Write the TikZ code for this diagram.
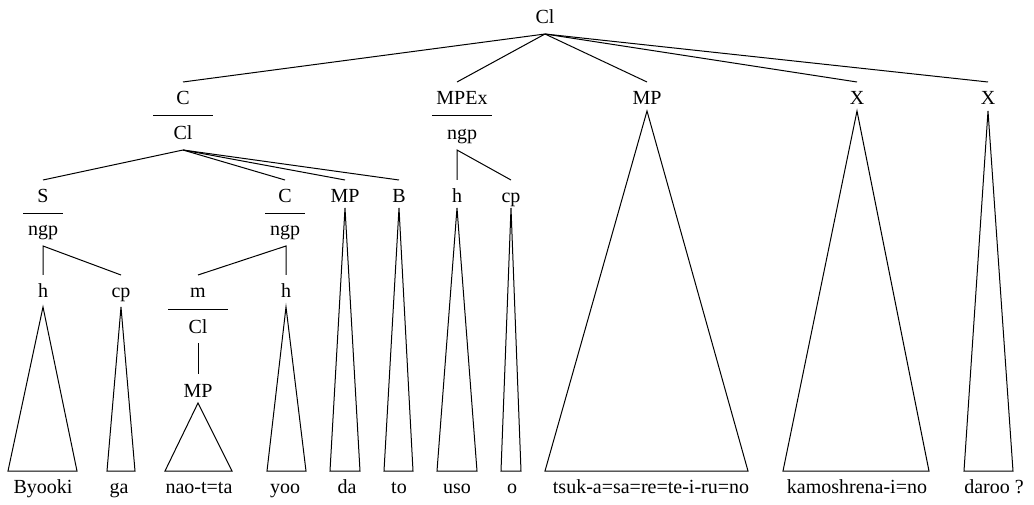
\documentclass[tikz,border=0pt]{standalone}
\usepackage{fontspec}
\setmainfont{Liberation Serif}
\usetikzlibrary{calc}
\newcommand\drawbar[2]{\draw ($(#1.south)+(-#2,1)$) -- ($(#1.south)+(#2,1)$);}
\newcommand\drawtri[4]{\draw ([yshift=-#2pt]#1.base) -- (#3,471) -- (#4,471) -- cycle;}
\begin{document}
\begin{tikzpicture}[x=1pt,y=-1pt,line width=1pt,
  lab/.style={inner sep=0pt,outer xsep=0pt,outer ysep=10pt,text height=13pt,text depth=0pt,anchor=base,font=\fontsize{20}{24}\selectfont},
  word/.style={lab}]
\useasboundingbox (0,0) rectangle (1034,505);
% labels
\node[lab] (cl0) at (545,24) {Cl};
\node[lab] (c1) at (183,105) {C};
\node[lab] (cl1) at (183,140) {Cl};
\node[lab] (mpex) at (462,105) {MPEx};
\node[lab] (ngp1) at (462,140) {ngp};
\node[lab] (mp1) at (647,105) {MP};
\node[lab] (x1) at (857,105) {X};
\node[lab] (x2) at (988,105) {X};
\node[lab] (s2) at (43,203) {S};
\node[lab] (ngpS) at (43,236) {ngp};
\node[lab] (c2) at (285,203) {C};
\node[lab] (ngpC) at (285,236) {ngp};
\node[lab] (mp2) at (345,203) {MP};
\node[lab] (b2) at (399,203) {B};
\node[lab] (h2) at (457,203) {h};
\node[lab] (cp2) at (511,203) {cp};
\node[lab] (h3) at (43,298) {h};
\node[lab] (cp3) at (121,298) {cp};
\node[lab] (m3) at (198,298) {m};
\node[lab] (cl3) at (198,333) {Cl};
\node[lab] (mp3) at (198,397) {MP};
\node[lab] (h3b) at (286,298) {h};
% words
\node[word] (w1) at (43,493) {Byooki};
\node[word] (w2) at (119,493) {ga};
\node[word] (w3) at (199,493) {nao-t=ta};
\node[word] (w4) at (285,493) {yoo};
\node[word] (w5) at (347,493) {da};
\node[word] (w6) at (399,493) {to};
\node[word] (w7) at (457,493) {uso};
\node[word] (w8) at (512,493) {o};
\node[word] (w9) at (651,493) {tsuk-a=sa=re=te-i-ru=no};
\node[word] (w10) at (857,493) {kamoshrena-i=no};
\node[word] (w11) at (994,493) {daroo ?};
% bars
\drawbar{c1}{30}
\drawbar{mpex}{30}
\drawbar{s2}{20}
\drawbar{c2}{20}
\drawbar{m3}{30}
% branches
\draw (cl0.south) -- (c1.north);
\draw (cl0.south) -- (h2 |- mpex.north);
\draw (cl0.south) -- (mp1.north);
\draw (cl0.south) -- (x1.north);
\draw (cl0.south) -- (x2.north);
\draw (h2.north) -- (h2 |- ngp1.south) -- (cp2.north);
\draw (cl1.south) -- (s2.north);
\draw (cl1.south) -- (c2.north);
\draw (cl1.south) -- (mp2.north);
\draw (cl1.south) -- (b2.north);
\draw (h3.north) -- (h3 |- ngpS.south) -- (cp3.north);
\draw (h3b.north) -- (h3b |- ngpC.south) -- (m3.north);
\draw (cl3.south) -- (mp3.north);
% triangles
\drawtri{h3}{9}{8}{77}
\drawtri{cp3}{9}{107}{135}
\drawtri{mp3}{6}{165}{232}
\drawtri{h3b}{9}{267}{306}
\drawtri{mp2}{5}{330}{360}
\drawtri{b2}{5}{384}{413}
\drawtri{h2}{5}{437}{477}
\drawtri{cp2}{5}{501}{521}
\drawtri{mp1}{6}{545}{748}
\drawtri{x1}{6}{783}{929}
\drawtri{x2}{6}{964}{1013}
\end{tikzpicture}
\end{document}
